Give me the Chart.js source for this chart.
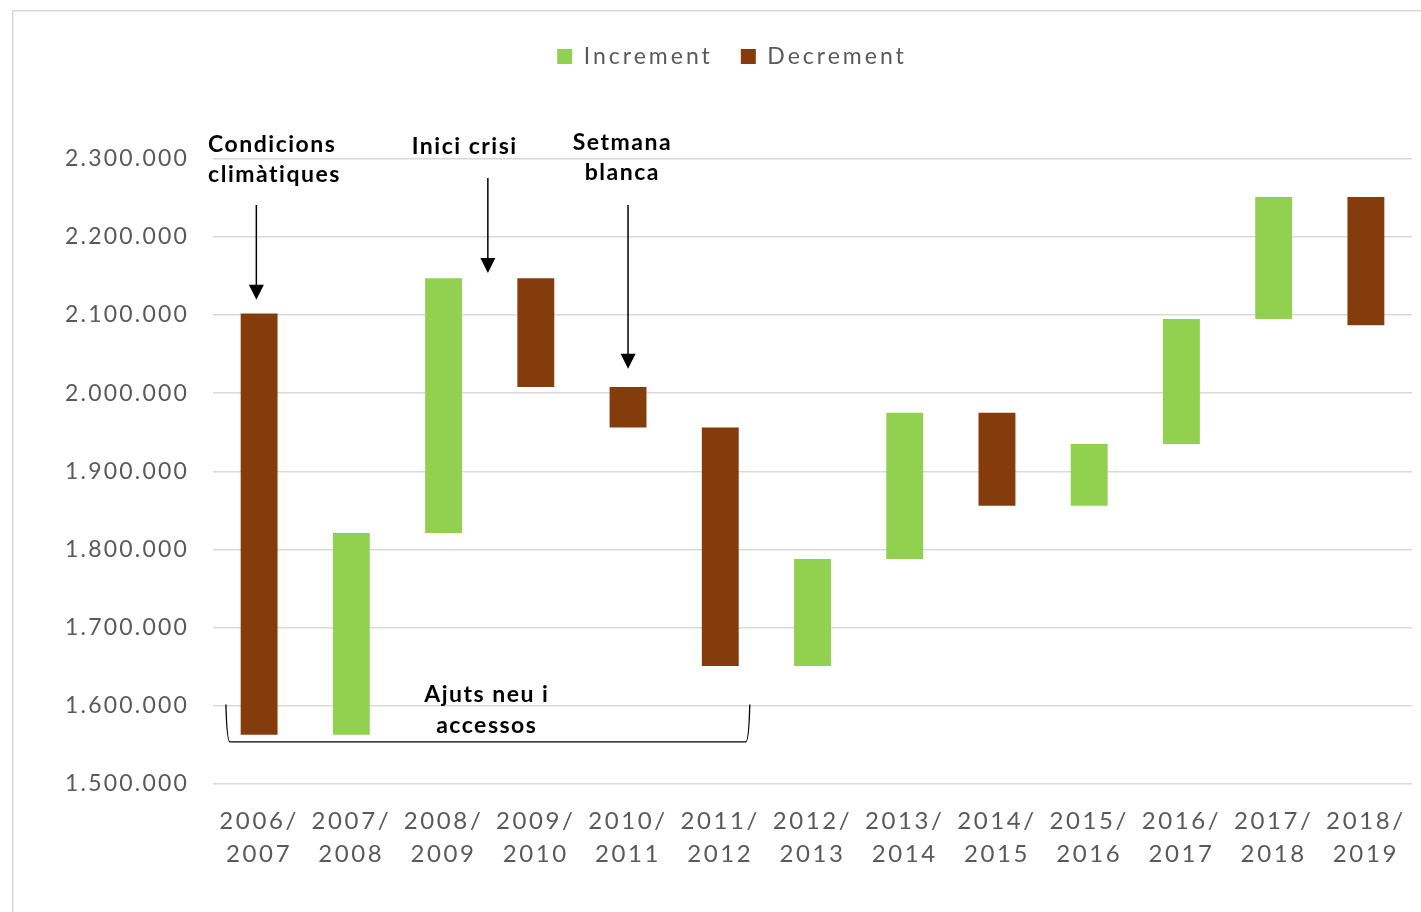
<!DOCTYPE html>
<html>
<head>
<meta charset="utf-8">
<script src="https://cdn.jsdelivr.net/npm/chart.js@4.4.1/dist/chart.umd.min.js"></script>
<style>
  html, body { margin: 0; padding: 0; background: #ffffff; }
  #wrap { position: relative; width: 1421px; height: 912px; }
</style>
</head>
<body>
<div id="wrap"><canvas id="c" width="1421" height="912"></canvas></div>
<script>
// ---- Data ----
const categories = ['2006/2007', '2007/2008', '2008/2009', '2009/2010', '2010/2011', '2011/2012', '2012/2013',
                    '2013/2014', '2014/2015', '2015/2016', '2016/2017', '2017/2018', '2018/2019'];
const barStart = [2102000, 1563000, 1821000, 2147000, 2008000, 1956000, 1651000,
                  1788000, 1975000, 1856000, 1935000, 2095000, 2251000];
const barEnd   = [1563000, 1821000, 2147000, 2008000, 1956000, 1651000, 1788000,
                  1975000, 1856000, 1935000, 2095000, 2251000, 2087000];
const seriesNames = ['Increment', 'Decrement'];
const yMin = 1500000, yMax = 2300000, yStep = 100000;

// Annotation texts
const noteTexts = {
  clima: ['Condicions', 'climàtiques'],
  crisi: ['Inici crisi'],
  setmana: ['Setmana', 'blanca'],
  ajuts: ['Ajuts neu i', 'accessos']
};

// ---- Build datasets ----
const incData = categories.map((c, i) => barEnd[i] > barStart[i] ? [barStart[i], barEnd[i]] : null);
const decData = categories.map((c, i) => barEnd[i] < barStart[i] ? [barEnd[i], barStart[i]] : null);

const GREEN = '#92D050', BROWN = '#843C0C', TXT = '#595959', GRID = '#d9d9d9';
const FONT = 'Lato, "Open Sans", sans-serif';

function fmt(v) { return String(v).replace(/\B(?=(\d{3})+(?!\d))/g, '.'); }

// Layout targets
const CHART_TOP = 158.7, PAD_TOP = 17;
const LS_LEGEND = '3px', LS_X = '2.6px', LS_Y = '2.2px', LS_NOTE = '1.5px';

function withSpacing(ctx, ls, fn) {
  const prev = ctx.letterSpacing;
  ctx.letterSpacing = ls;
  try { return fn(); } finally { ctx.letterSpacing = prev || '0px'; }
}

const layoutPlugin = {
  id: 'layoutTweaks',
  beforeLayout(chart) {
    const lg = chart.legend;
    if (lg && !lg._patched) {
      const origFit = lg.fit, origDraw = lg.draw;
      lg.fit = function () {
        withSpacing(this.ctx, LS_LEGEND, () => origFit.call(this));
        this.height = CHART_TOP - PAD_TOP;
      };
      lg.draw = function () {
        const ctx = this.ctx;
        ctx.save();
        ctx.translate(26, 0);
        withSpacing(ctx, LS_LEGEND, () => origDraw.call(this));
        ctx.restore();
      };
      lg._patched = true;
    }
  },
  afterLayout(chart) {
    const sx = chart.scales.x, sy = chart.scales.y;
    if (sx && !sx._patched) {
      const o = sx.drawLabels;
      sx.drawLabels = function (a) { withSpacing(this.ctx, LS_X, () => o.call(this, a)); };
      sx._patched = true;
    }
    if (sy && !sy._patched) {
      const o = sy.drawLabels;
      sy.drawLabels = function (a) { withSpacing(this.ctx, LS_Y, () => o.call(this, a)); };
      sy._patched = true;
    }
  },
  beforeDraw(chart) {
    const ctx = chart.ctx;
    ctx.save();
    ctx.strokeStyle = '#d9d9d9';
    ctx.lineWidth = 1.5;
    ctx.beginPath();
    ctx.moveTo(12.75, 912);
    ctx.lineTo(12.75, 10.75);
    ctx.lineTo(1421, 10.75);
    ctx.stroke();
    ctx.restore();
  }
};

// Annotation anchors: category index (fractional) and value on the y scale
const annotationPlugin = {
  id: 'notes',
  afterDraw(chart) {
    const x = chart.scales.x, y = chart.scales.y, ctx = chart.ctx;
    const px = i => x.getPixelForValue(i);
    const py = v => y.getPixelForValue(v);
    ctx.save();
    ctx.fillStyle = '#000';
    ctx.strokeStyle = '#000';
    ctx.font = 'bold 23px ' + FONT;
    ctx.textBaseline = 'middle';

    function text(lines, xi, v0, v1, align) {
      ctx.textAlign = align;
      const y0 = py(v0), y1 = py(v1);
      withSpacing(ctx, LS_NOTE, () => {
        lines.forEach((t, k) => ctx.fillText(t, px(xi) + (align === 'center' ? 0.8 : 0), k === 0 ? y0 : y1));
      });
    }
    function arrow(xi, vFrom, vTip) {
      const X = px(xi), Y0 = py(vFrom), Y1 = py(vTip);
      ctx.lineWidth = 1.5;
      ctx.beginPath(); ctx.moveTo(X, Y0); ctx.lineTo(X, Y1 - 12); ctx.stroke();
      ctx.beginPath(); ctx.moveTo(X - 7.5, Y1 - 15); ctx.lineTo(X + 7.5, Y1 - 15); ctx.lineTo(X, Y1); ctx.closePath(); ctx.fill();
    }

    text(noteTexts.clima, -0.553, 2317500, 2279200, 'left');
    arrow(-0.03, 2240800, 2119400);

    text(noteTexts.crisi, 2.22, 2315000, 2315000, 'center');
    arrow(2.48, 2275300, 2153900);

    text(noteTexts.setmana, 3.93, 2320100, 2281700, 'center');
    arrow(4.0, 2240800, 2031200);

    text(noteTexts.ajuts, 2.46, 1614600, 1575000, 'center');
    // bracket
    const L = px(-0.36), R = px(5.32), T = py(1601800), B = py(1554000);
    ctx.lineWidth = 1.3;
    ctx.beginPath();
    ctx.moveTo(L, T);
    ctx.quadraticCurveTo(L + 1, B, L + 4, B);
    ctx.lineTo(R - 4, B);
    ctx.quadraticCurveTo(R - 1, B, R, T);
    ctx.stroke();
    ctx.restore();
  }
};

new Chart(document.getElementById('c'), {
  type: 'bar',
  data: {
    labels: categories,
    datasets: [
      { label: seriesNames[0], data: incData, backgroundColor: GREEN, borderWidth: 0 },
      { label: seriesNames[1], data: decData, backgroundColor: BROWN, borderWidth: 0 }
    ]
  },
  options: {
    responsive: false,
    animation: false,
    devicePixelRatio: 1,
    layout: { padding: { top: PAD_TOP, right: 9, bottom: 0, left: 0 } },
    datasets: { bar: { barPercentage: 0.4, categoryPercentage: 1.0, grouped: false } },
    plugins: {
      legend: {
        position: 'top',
        labels: {
          color: TXT,
          font: { family: FONT, size: 23 },
          boxWidth: 15, boxHeight: 15,
          padding: 28
        }
      },
      tooltip: { enabled: false }
    },
    scales: {
      x: {
        grid: { display: false, drawTicks: false },
        border: { display: false },
        ticks: {
          color: TXT,
          font: { family: FONT, size: 24, lineHeight: 1.375 },
          padding: 21,
          maxRotation: 0, autoSkip: false,
          callback: function (v) { const s = categories[v]; const p = s.indexOf('/'); return [s.slice(0, p + 1), s.slice(p + 1)]; }
        },
        afterFit(scale) { scale.height = 128; }
      },
      y: {
        min: yMin, max: yMax,
        grid: { color: GRID, lineWidth: 1.5, drawTicks: false },
        border: { display: false },
        ticks: {
          stepSize: yStep,
          color: TXT,
          font: { family: FONT, size: 23 },
          padding: 24,
          callback: v => fmt(v)
        },
        afterFit(scale) { scale.width = 213; }
      }
    }
  },
  plugins: [layoutPlugin, annotationPlugin]
});
</script>
</body>
</html>
